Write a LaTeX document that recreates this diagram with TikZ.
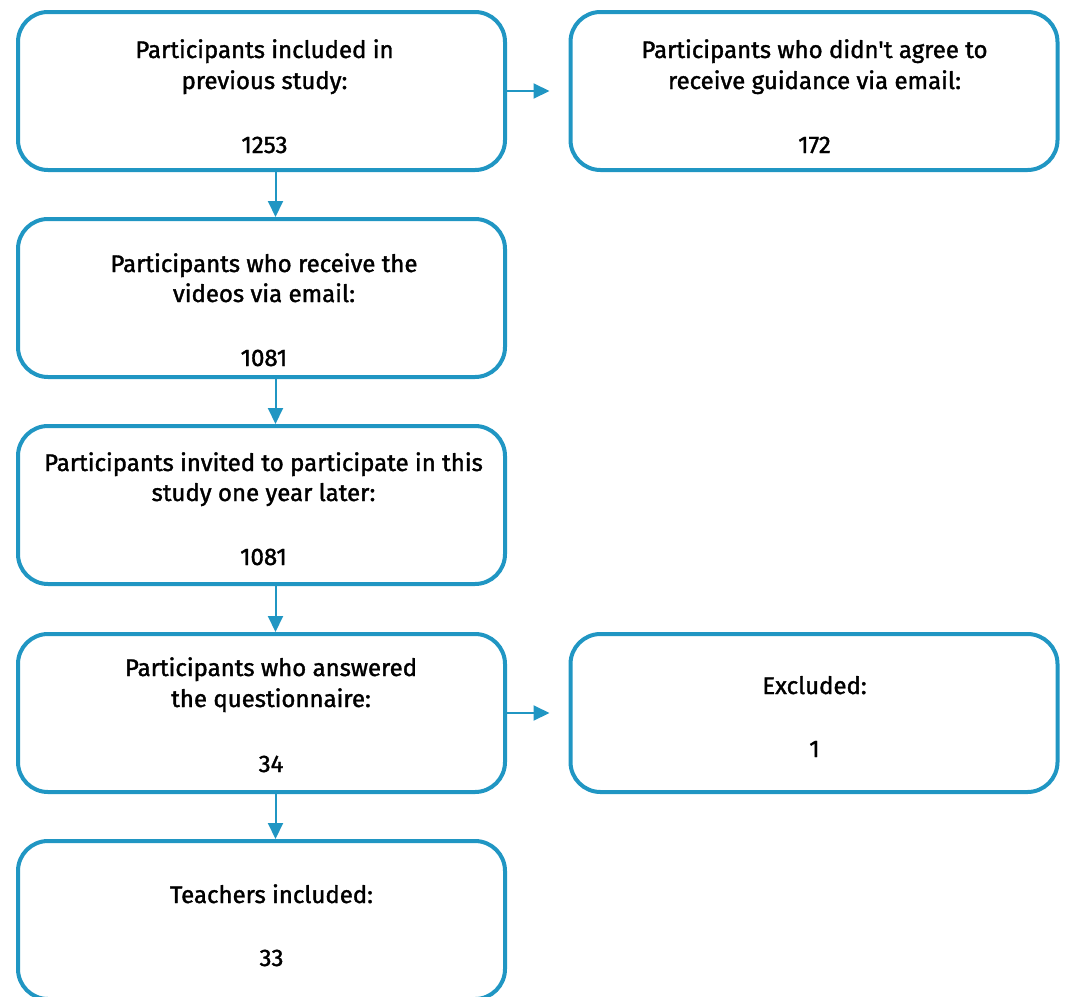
\documentclass[tikz,border=0pt]{standalone}
\usepackage{fontspec}
\setmainfont{Fira Sans}[Ligatures=TeXOff, FakeBold=1.5]
\usetikzlibrary{arrows.meta}
\definecolor{bl}{RGB}{32,150,195}
\begin{document}
\begin{tikzpicture}[x=1pt,y=-1pt,
  box/.style={draw=bl, line width=4pt, rounded corners=30pt,
    minimum width=487pt, minimum height=158pt, inner sep=0pt},
  txt/.style={anchor=base, inner sep=0pt, text=black,
    font=\fontsize{24}{28}\selectfont},
  conn/.style={draw=bl, line width=2pt, -{Triangle[length=16pt,width=15pt]}}]
\useasboundingbox (0,0) rectangle (1065,996);
% boxes
\node[box] (b1) at (261.5,91) {};
\node[box] (b2) at (261.5,298) {};
\node[box] (b3) at (261.5,505) {};
\node[box] (b4) at (261.5,713) {};
\node[box] (b5) at (261.5,920) {};
\node[box] (r1) at (814,91) {};
\node[box] (r2) at (814,713) {};
% texts
\node[txt] (t1a) at (264.5,58) {Participants included in};
\node[txt] (t1b) at (264.5,89) {previous study:};
\node[txt] (t1c) at (264.5,153) {1253};
\node[txt] (t2a) at (264,272) {Participants who receive the};
\node[txt] (t2b) at (264,302) {videos via email:};
\node[txt] (t2c) at (264,366) {1081};
\node[txt] (t3a) at (263.5,471) {Participants invited to participate in this};
\node[txt] (t3b) at (263.5,501) {study one year later:};
\node[txt] (t3c) at (263.5,565) {1081};
\node[txt] (t4a) at (271,676) {Participants who answered};
\node[txt] (t4b) at (271,707) {the questionnaire:};
\node[txt] (t4c) at (271,772) {34};
\node[txt] (t5a) at (271.5,903) {Teachers included:};
\node[txt] (t5b) at (271.5,966) {33};
\node[txt] (s1a) at (814.5,58) {Participants who didn't agree to};
\node[txt] (s1b) at (814.5,89) {receive guidance via email:};
\node[txt] (s1c) at (814.5,153) {172};
\node[txt] (s2a) at (814.5,694) {Excluded:};
\node[txt] (s2b) at (814.5,757) {1};
% connectors
\draw[conn] ([xshift=14pt]b1.south) -- ([xshift=14pt]b2.north);
\draw[conn] ([xshift=14pt]b2.south) -- ([xshift=14pt]b3.north);
\draw[conn] ([xshift=14pt]b3.south) -- ([xshift=14pt]b4.north);
\draw[conn] ([xshift=14pt]b4.south) -- ([xshift=14pt]b5.north);
\draw[conn, shorten >=19pt] (b1.east) -- (r1.west);
\draw[conn, shorten >=19pt] (b4.east) -- (r2.west);
\end{tikzpicture}
\end{document}
